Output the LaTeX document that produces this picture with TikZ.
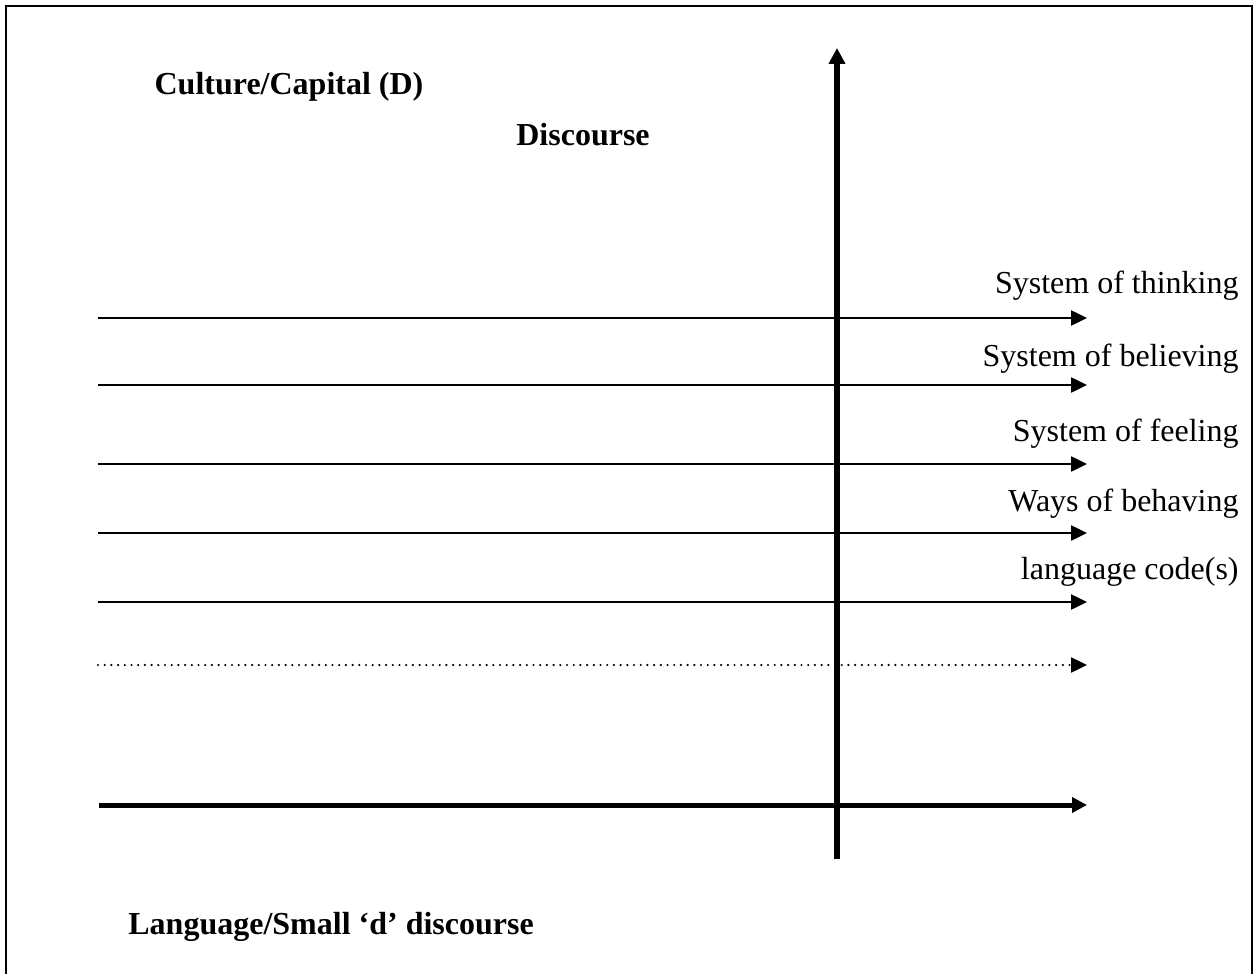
\documentclass[tikz,border=0pt]{standalone}
\usepackage{fontspec}
\setmainfont{Liberation Serif}
\usetikzlibrary{arrows.meta}
\begin{document}
\begin{tikzpicture}[x=0.5pt,y=-0.5pt,
  lbl/.style={font=\fontsize{16}{19}\selectfont, inner sep=0pt},
  head/.style={font=\fontsize{16}{19}\selectfont\bfseries, inner sep=0pt},
  thinarrow/.style={line width=1.25pt, -{Triangle[length=8pt,width=7.5pt]}},
  dotarrow/.style={line width=1.2pt, line cap=round, dash pattern=on 0pt off 3.35pt,
    -{Triangle[length=8pt,width=7.5pt]}},
  thickarrow/.style={line width=2.5pt, -{Triangle[length=7.5pt,width=7.5pt]}},
  axisarrow/.style={line width=2.75pt, -{Triangle[length=8pt,width=8pt]}}]
\useasboundingbox (0,0) rectangle (1259,974);
\clip (0,0) rectangle (1259,974);

% outer frame (its lower edge runs past the page)
\draw[line width=1.3pt] (6,6) rectangle (1252,1010);

% headings
\node[head, anchor=base] (culture) at (289,95) {Culture/Capital (D)};
\node[head, anchor=base] (discourse) at (583,146) {Discourse};
\node[head, anchor=base west] (language) at (128,934) {Language/Small ‘d’ discourse};

% labels of the horizontal arrows
\node[lbl, anchor=base east] (thinking) at (1239,293) {System of thinking};
\node[lbl, anchor=base east] (believing) at (1239,366) {System of believing};
\node[lbl, anchor=base east] (feeling) at (1239,441) {System of feeling};
\node[lbl, anchor=base east] (behaving) at (1239,511) {Ways of behaving};
\node[lbl, anchor=base east] (code) at (1239,579) {language code(s)};

% horizontal arrows
\foreach \n/\y in {a/318, b/385, c/464, d/533, e/602} {
  \coordinate (s\n) at (98,\y);
  \coordinate (t\n) at (1087,\y);
  \draw[thinarrow] (s\n) -- (t\n);
}
\coordinate (sf) at (98,665);
\coordinate (tf) at (1087,665);
\draw[dotarrow] (sf) -- (tf);

\coordinate (sg) at (99,805);
\coordinate (tg) at (1087,805);
\draw[thickarrow] (sg) -- (tg);

% vertical axis
\coordinate (vb) at (837,859);
\coordinate (vt) at (837,48);
\draw[axisarrow] (vb) -- (vt);
\end{tikzpicture}
\end{document}
